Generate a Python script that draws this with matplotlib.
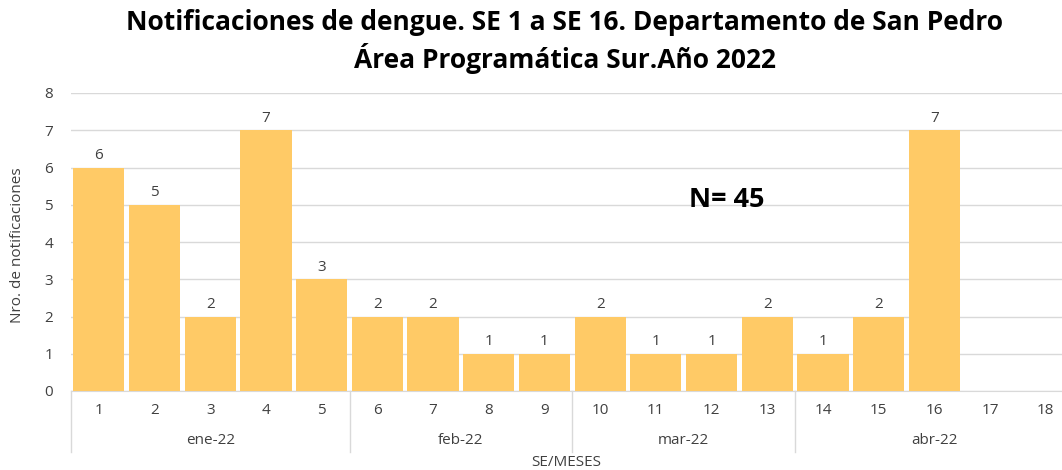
import matplotlib
matplotlib.use("Agg")
import matplotlib.pyplot as plt
from matplotlib.lines import Line2D

weeks = [str(i) for i in range(1, 19)]
values = [6, 5, 2, 7, 3, 2, 2, 1, 1, 2, 1, 1, 2, 1, 2, 7, None, None]
months = ["ene-22", "feb-22", "mar-22", "abr-22"]
month_sizes = [5, 4, 4, 5]

title_l1 = "Notificaciones de dengue. SE 1 a SE 16. Departamento de San Pedro"
title_l2 = "Área Programática Sur.Año 2022"

plt.rcParams['font.family'] = ['Open Sans', 'DejaVu Sans']

W, H = 1062, 470
fig = plt.figure(figsize=(W / 100, H / 100), dpi=100)
left_px, right_px, top_px, bot_px = 71, 1062, 93, 391
slot = 55.7
ax = fig.add_axes([left_px / W, 1 - bot_px / H, (right_px - left_px) / W, (bot_px - top_px) / H])

x = list(range(len(weeks)))
hv = [v if v is not None else 0 for v in values]
bars = ax.bar(x, hv, width=0.92, color="#FFCA66", zorder=3)
for xi, v in zip(x, values):
    if v is not None:
        ax.text(xi, v + 0.12, str(v), ha="center", va="bottom", fontsize=11, color="#404040")

ax.set_ylim(0, 8)
ax.set_xlim(-0.5, -0.5 + (right_px - left_px) / slot)
ax.set_yticks(range(0, 9))
ax.grid(axis="y", color="#d9d9d9", linewidth=1, zorder=0)
for s in ["top", "right", "left"]:
    ax.spines[s].set_visible(False)
ax.spines["bottom"].set_color("#d9d9d9")
ax.tick_params(axis="y", length=0, labelsize=11, labelcolor="#404040", pad=13)
ax.tick_params(axis="x", length=0, labelsize=11, labelcolor="#404040", pad=9)
ax.set_xticks(x)
ax.set_xticklabels(weeks)

# month groups
trans = ax.get_xaxis_transform()
y_bot = -(452 - bot_px) / (bot_px - top_px)
start = 0
bounds = [-0.5]
for m, n in zip(months, month_sizes):
    center = start + (n - 1) / 2
    ax.text(center, -(441 - bot_px) / (bot_px - top_px), m, transform=trans, ha="center", va="center",
            fontsize=11, color="#404040")
    start += n
    bounds.append(start - 0.5)
for b in bounds[:-1]:
    ax.add_line(Line2D([b, b], [0, y_bot], transform=trans, color="#d9d9d9", linewidth=1, clip_on=False))

fig.text((left_px + right_px) / 2 / W, 1 - 462 / H, "SE/MESES", ha="center", va="center",
         fontsize=11, color="#404040")
fig.text(18 / W, 1 - 245 / H, "Nro. de notificaciones", rotation=90, ha="center", va="center",
         fontsize=11, color="#404040")
fig.text(565 / W, 1 - 23 / H, title_l1, ha="center", va="center", fontsize=19, fontweight="bold",
         color="black")
fig.text(565 / W, 1 - 58 / H, title_l2, ha="center", va="center", fontsize=19, fontweight="bold",
         color="black")
fig.text(727 / W, 1 - 200 / H, "N= 45", ha="center", va="center", fontsize=19.5, fontweight="bold", color="black")

fig.savefig("out.png", dpi=100, facecolor="white")
